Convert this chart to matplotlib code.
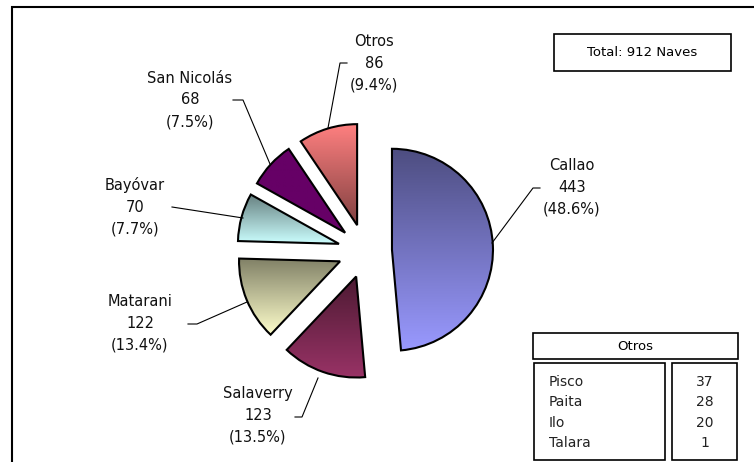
import matplotlib.pyplot as plt
import numpy as np
from matplotlib.colors import LinearSegmentedColormap
from matplotlib.patches import Rectangle

# data
ports = ['Callao', 'Salaverry', 'Matarani', 'Bayóvar', 'San Nicolás', 'Otros']
naves = [443, 123, 122, 70, 68, 86]
otros_ports = ['Pisco', 'Paita', 'Ilo', 'Talara']
otros_naves = [37, 28, 20, 1]

# gradient colours per slice (top, bottom)
grad = [('#4d4d80', '#9999ff'), ('#4d1a33', '#993366'), ('#808066', '#ffffcc'),
        ('#668080', '#ccffff'), ('#660066', '#660066'), ('#ff8080', '#804040')]

W, H = 754, 462
fig = plt.figure(figsize=(W / 100, H / 100), dpi=100)
ax = fig.add_axes([0, 0, 1, 1])


def py(y):
    # pixel row -> data y
    return H - y


total = sum(naves)
wedges, _ = ax.pie(naves, radius=101, center=(365, py(251)), explode=[27] * len(naves),
                   startangle=90, counterclock=False,
                   wedgeprops=dict(fc='none', ec='black', lw=1.5, zorder=3))

# vertical gradient inside each wedge
g = np.linspace(0, 1, 256).reshape(-1, 1)
for w, (top, bot) in zip(wedges, grad):
    ext = w.get_path().get_extents()
    cmap = LinearSegmentedColormap.from_list('', [bot, top])
    im = ax.imshow(g, cmap=cmap, extent=[ext.x0, ext.x1, ext.y0, ext.y1], origin='lower',
                   aspect='auto', zorder=2, interpolation='bilinear')
    im.set_clip_path(w)

# labels and leader lines
label_pos = [(572, 187), (258, 415), (140, 323), (135, 207), (190, 100), (374, 63)]
leaders = [[(492, 243), (533, 188), (540, 188)],
           [(318, 378), (302, 417), (295, 417)],
           [(247, 302), (197, 324), (188, 324)],
           [(243, 218), (172, 207)],
           [(270, 164), (243, 100), (233, 100)],
           [(328, 128), (340, 63), (347, 63)]]
for name, n, (lx, ly), pts in zip(ports, naves, label_pos, leaders):
    ax.text(lx, py(ly), f"{name}\n{n}\n({100 * n / total:.1f}%)", ha='center', va='center',
            fontsize=10.5, linespacing=1.55, color='#111111')
    xs = [p[0] for p in pts]
    ys = [py(p[1]) for p in pts]
    ax.plot(xs, ys, color='black', lw=0.8, zorder=4)

# total box
ax.add_patch(Rectangle((554, py(71)), 177, 37, fc='white', ec='black', lw=1.2))
ax.text(642, py(53), f"Total: {total} Naves", ha='center', va='center', fontsize=9.5)

# Otros table
ax.add_patch(Rectangle((533, py(359)), 205, 26, fc='white', ec='black', lw=1.2))
ax.text(635, py(346), 'Otros', ha='center', va='center', fontsize=9.5)
ax.add_patch(Rectangle((534, py(460)), 131, 97, fc='white', ec='black', lw=1.2))
ax.add_patch(Rectangle((672, py(460)), 65, 97, fc='white', ec='black', lw=1.2))
for i, (p, n) in enumerate(zip(otros_ports, otros_naves)):
    yy = py(382 + i * 20.3)
    ax.text(549, yy, p, ha='left', va='center', fontsize=10, color='#222222')
    ax.text(705, yy, str(n), ha='center', va='center', fontsize=10, color='#222222')

# outer frame
ax.add_patch(Rectangle((12, py(480)), 760, 473, fc='none', ec='black', lw=1.5, clip_on=False))

ax.set_xlim(0, W)
ax.set_ylim(0, H)
ax.axis('off')

plt.savefig('out.png', dpi=100)
